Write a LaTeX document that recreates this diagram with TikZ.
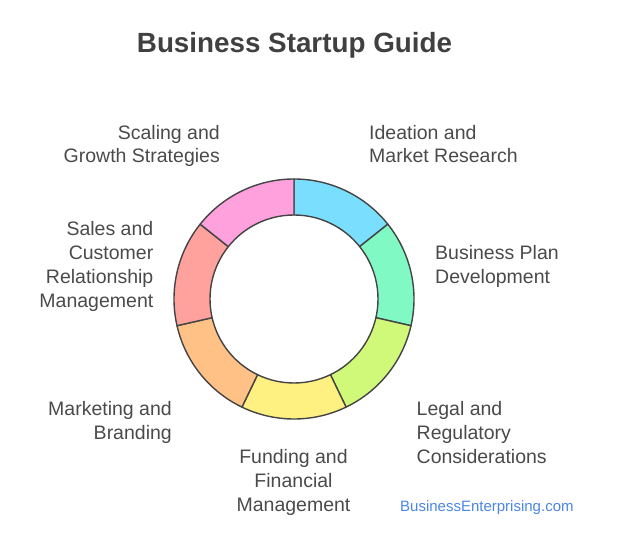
\documentclass[tikz,border=0pt]{standalone}
\usepackage{fontspec}
\setmainfont{Liberation Sans}
\usetikzlibrary{calc}

\definecolor{ringline}{HTML}{444444}
\definecolor{labeltext}{HTML}{4A4A4A}
\definecolor{titletext}{HTML}{404040}
\definecolor{sitelink}{HTML}{4A86E8}
\definecolor{segA}{HTML}{7ADFFF}
\definecolor{segB}{HTML}{80F9C4}
\definecolor{segC}{HTML}{D0F979}
\definecolor{segD}{HTML}{FFF082}
\definecolor{segE}{HTML}{FFC186}
\definecolor{segF}{HTML}{FFA29E}
\definecolor{segG}{HTML}{FFA1DC}

\tikzset{
  steplabel/.style={inner sep=0pt, text=labeltext, font=\fontsize{19.5}{24}\selectfont},
}

\begin{document}
\begin{tikzpicture}[x=1pt,y=1pt]
		\useasboundingbox (0,0) rectangle (624,558);
		\coordinate (M) at (294,259);
		\def\Rout{120}
		\def\Rin{84}

		% seven ring segments, clockwise from the top
		\foreach \col [count=\i from 0] in {segA,segB,segC,segD,segE,segF,segG}{
			\pgfmathsetmacro{\a}{90-\i*360/7}
			\pgfmathsetmacro{\b}{90-(\i+1)*360/7}
			\draw[ringline, line width=1.4pt, fill=\col, line join=round]
				($(M)+(\a:\Rout)$) arc[start angle=\a, end angle=\b, radius=\Rout]
				-- ($(M)+(\b:\Rin)$) arc[start angle=\b, end angle=\a, radius=\Rin] -- cycle;
		}

		\node (title) at (294.5,505) [anchor=base, inner sep=0pt, text=titletext, font=\fontsize{27.8}{30}\selectfont\bfseries] {Business Startup Guide};

		% base anchor sits on the last line
		\node (scaling) at (220,395) [steplabel, anchor=base east, align=right] {Scaling and\\Growth Strategies};
		\node (ideation) at (369,395) [steplabel, anchor=base west, align=left] {Ideation and\\Market Research};
		\node (plan) at (435,275) [steplabel, anchor=base west, align=left] {Business Plan\\Development};
		\node (legal) at (416.5,95) [steplabel, anchor=base west, align=left] {Legal and\\Regulatory\\Considerations};
		\node (funding) at (293.5,47) [steplabel, anchor=base, align=center] {Funding and\\Financial\\Management};
		\node (marketing) at (172,119) [steplabel, anchor=base east, align=right] {Marketing and\\Branding};
		\node (sales) at (153.5,251) [steplabel, anchor=base east, align=right] {Sales and\\Customer\\Relationship\\Management};

		\node (site) at (400,47) [anchor=base west, inner sep=0pt, text=sitelink, font=\fontsize{15}{18}\selectfont] {BusinessEnterprising.com};
	\end{tikzpicture}
\end{document}
